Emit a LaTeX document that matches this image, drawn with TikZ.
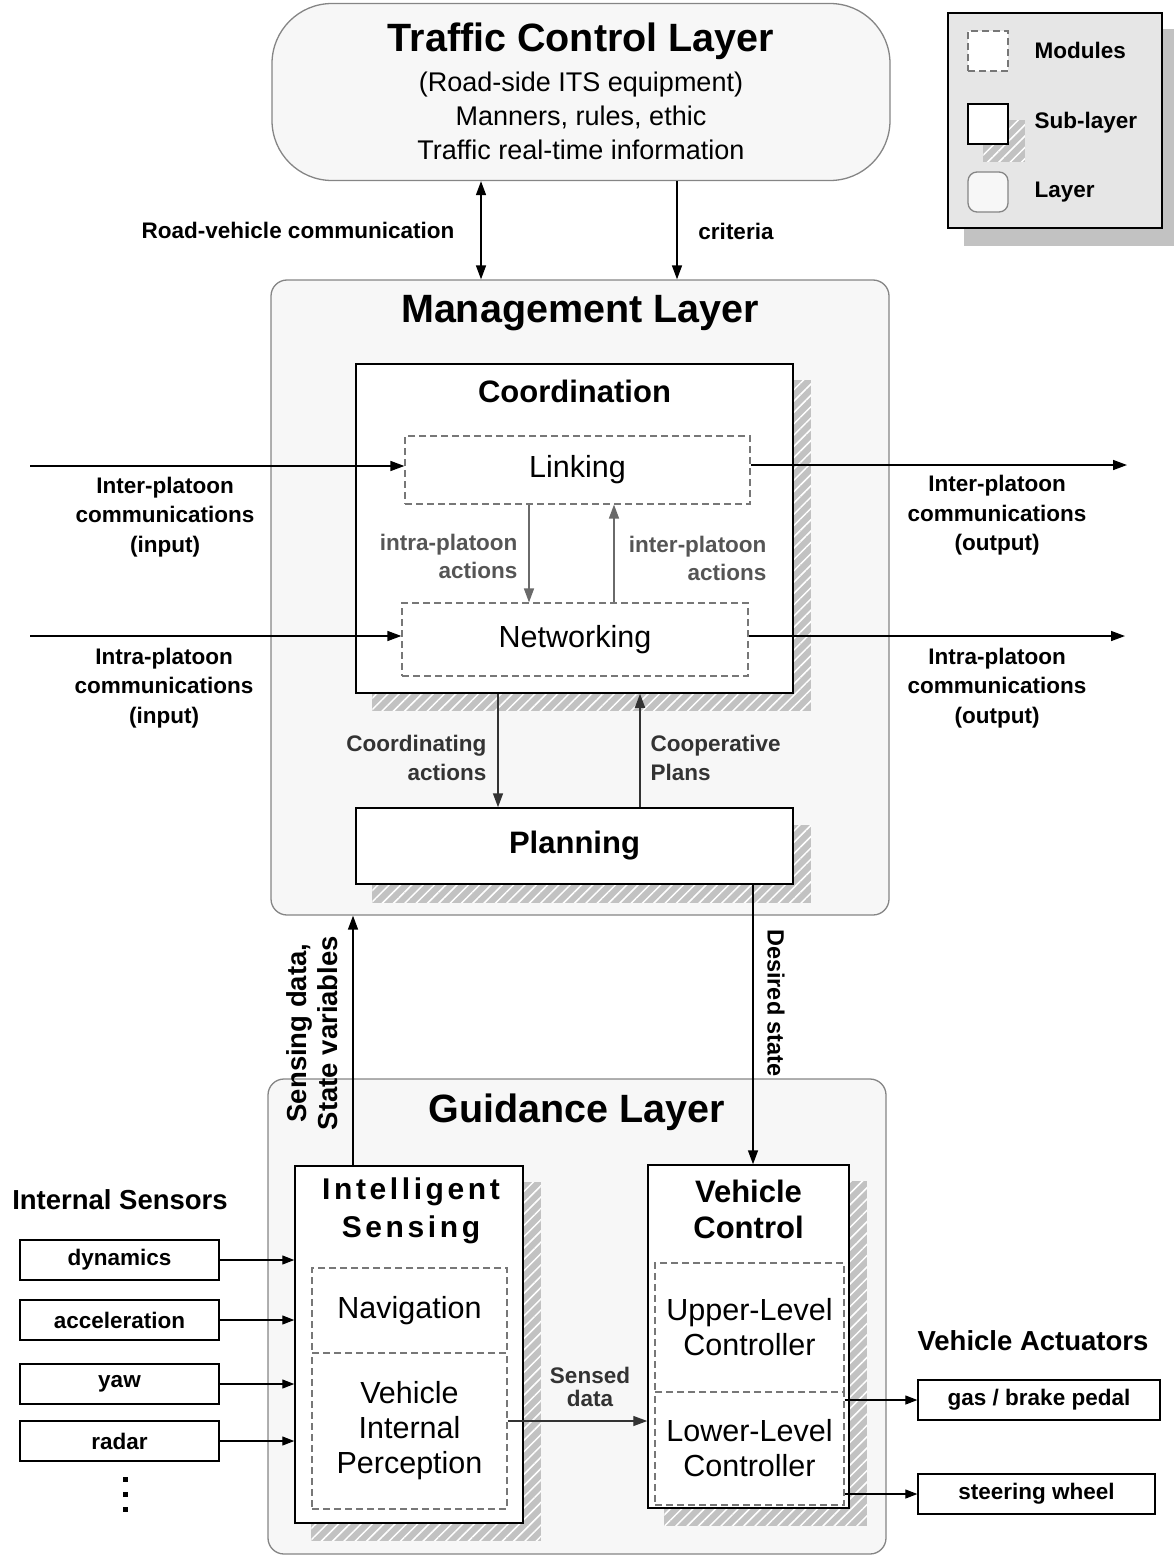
\documentclass[tikz,border=0pt]{standalone}
\usepackage{fontspec}
\setmainfont{Liberation Sans}
\usetikzlibrary{arrows.meta,patterns.meta}
\pgfdeclarelayer{bottom}
\pgfdeclarelayer{back}
\pgfdeclarelayer{shade}
\pgfsetlayers{bottom,back,shade,main}

\definecolor{layerfill}{HTML}{F7F7F7}
\definecolor{layerline}{HTML}{858585}
\definecolor{hatchgray}{HTML}{C2C2C2}
\definecolor{legendfill}{HTML}{E6E6E6}
\definecolor{modline}{HTML}{777777}
\definecolor{innergray}{HTML}{6A6A6A}
\definecolor{labelgray}{HTML}{555555}
\definecolor{darkline}{HTML}{333333}

\tikzset{
  layerbox/.style={draw=layerline, fill=layerfill, line width=1.3pt, rounded corners=16pt, inner sep=0pt},
  sublayer/.style={draw=black, fill=white, line width=1.5pt, inner sep=0pt},
  module/.style={draw=modline, dash pattern=on 7pt off 4pt, line width=1.2pt, inner sep=0pt,
    align=center, font=\fontsize{30.5}{35}\selectfont},
  hatch/.style={fill=hatchgray, postaction={pattern={Lines[angle=45,distance=8pt,line width=1.5pt]}, pattern color=white}},
  sensor/.style={draw=black, fill=white, line width=1.3pt, inner sep=0pt, font=\bfseries\fontsize{22.5}{27}\selectfont},
  layertitle/.style={font=\bfseries\fontsize{39.5}{48}\selectfont},
  subtitle/.style={font=\bfseries\fontsize{31}{37}\selectfont, align=center},
  lbl/.style={font=\bfseries\fontsize{22.5}{29.5}\selectfont, align=center},
  glbl/.style={font=\bfseries\fontsize{22.5}{28}\selectfont, text=labelgray},
  dlbl/.style={font=\bfseries\fontsize{22.5}{29}\selectfont, text=darkline},
  heading/.style={font=\bfseries\fontsize{27.5}{33}\selectfont},
  dotmark/.style={fill=black, inner sep=0pt, minimum size=5pt},
  arr/.style={line width=1.5pt, -{Triangle[length=14pt,width=10pt]}},
  sarr/.style={line width=1.2pt, -{Triangle[length=12pt,width=9pt]}},
  garr/.style={line width=1.5pt, draw=innergray, -{Triangle[length=14pt,width=10pt]}},
  darr/.style={line width=1.5pt, draw=darkline, -{Triangle[length=14pt,width=10pt]}},
}

\begin{document}
\begin{tikzpicture}[x=1pt,y=-1pt]
\useasboundingbox (0,0) rectangle (1174,1557);

% ---------- layers (kept below the sub-layer shadows) ----------
\begin{pgfonlayer}{back}
\node[layerbox, rounded corners=60pt, minimum width=618pt, minimum height=177pt] (tcl) at (581,92) {};
\node[layerbox, minimum width=618pt, minimum height=635pt] (ml) at (580,597.5) {};
\node[layerbox, minimum width=618pt, minimum height=475pt] (gl) at (577,1316.5) {};
\node[draw=black, fill=legendfill, line width=1.3pt, minimum width=214pt, minimum height=215pt] (leg) at (1055,120.5) {};
\end{pgfonlayer}
\begin{pgfonlayer}{bottom}
  \fill[hatchgray] ([shift={(17pt,-17pt)}]leg.south west) rectangle ([shift={(17pt,-17pt)}]leg.north east);
\end{pgfonlayer}

\node[layertitle] (tcltitle) at (581,41) {Traffic Control Layer};
\node[font=\fontsize{27}{34}\selectfont, align=center] (tcltext) at (581,116)
  {(Road-side ITS equipment)\\Manners, rules, ethic\\Traffic real-time information};
\node[layertitle] (mltitle) at (580,313) {Management Layer};
\node[layertitle] (gltitle) at (577,1112) {Guidance Layer};

% ---------- legend ----------
\node[module, fill=white, minimum width=40pt, minimum height=40pt] (legmod) at (988,51) {};
\node[sublayer, minimum width=40pt, minimum height=40pt] (legsub) at (988,124) {};
\node[layerbox, rounded corners=9pt, minimum width=40pt, minimum height=40pt] (leglay) at (988,192) {};
\node[lbl, anchor=west] (legmodtxt) at (1031,50) {Modules};
\node[lbl, anchor=west] (legsubtxt) at (1031,123) {Sub-layer};
\node[lbl, anchor=west] (leglaytxt) at (1031,192) {Layer};

% ---------- management sub-layers ----------
\node[sublayer, minimum width=437pt, minimum height=329pt] (coord) at (574.5,528.5) {};
\node[subtitle] (coordtitle) at (574.5,391) {Coordination};
\node[module, minimum width=345pt, minimum height=68pt] (link) at (577.5,470) {Linking};
\node[module, minimum width=346pt, minimum height=73pt] (net) at (575,639.5) {Networking};
\node[sublayer, minimum width=437pt, minimum height=76pt, subtitle] (plan) at (574.5,846) {Planning};

% ---------- guidance sub-layers ----------
\node[sublayer, minimum width=228pt, minimum height=357pt] (is) at (409,1344.5) {};
\node[subtitle, font=\bfseries\fontsize{30}{38}\selectfont\addfontfeature{LetterSpace=12}] (istitle) at (411,1211) {Intelligent\\Sensing};
\node[module, minimum width=195pt, minimum height=85pt] (nav) at (409.5,1310.5) {Navigation};
\node[module, minimum width=195pt, minimum height=156pt] (vip) at (409.5,1431) {Vehicle\\Internal\\Perception};

\node[sublayer, minimum width=201pt, minimum height=343pt] (vc) at (748.5,1336.5) {};
\node[subtitle, font=\bfseries\fontsize{31}{36}\selectfont] (vctitle) at (748.5,1209.5) {Vehicle\\Control};
\node[module, minimum width=189pt, minimum height=129pt] (upper) at (749.5,1327.5) {Upper-Level\\Controller};
\node[module, minimum width=189pt, minimum height=113pt] (lower) at (749.5,1448.5) {Lower-Level\\Controller};

% ---------- hatched shadows behind sub-layers ----------
\begin{pgfonlayer}{shade}
  \path[hatch] ([shift={(16pt,-17pt)}]legsub.south west) rectangle ([shift={(16pt,-17pt)}]legsub.north east);
  \path[hatch] ([shift={(17pt,-17pt)}]coord.south west) rectangle ([shift={(17pt,-17pt)}]coord.north east);
  \path[hatch] ([shift={(17pt,-18pt)}]plan.south west) rectangle ([shift={(17pt,-18pt)}]plan.north east);
  \path[hatch] ([shift={(17pt,-17pt)}]is.south west) rectangle ([shift={(17pt,-17pt)}]is.north east);
  \path[hatch] ([shift={(17pt,-17pt)}]vc.south west) rectangle ([shift={(17pt,-17pt)}]vc.north east);
\end{pgfonlayer}

% ---------- sensors and actuators ----------
\node[heading] (senshead) at (120,1200) {Internal Sensors};
\node[sensor, minimum width=199pt, minimum height=40pt] (dyn) at (119.5,1260) {dynamics};
\node[sensor, minimum width=199pt, minimum height=40pt] (acc) at (119.5,1320) {acceleration};
\node[sensor, minimum width=199pt, minimum height=40pt] (yaw) at (119.5,1384) {yaw};
\node[sensor, minimum width=199pt, minimum height=40pt] (radar) at (119.5,1441) {radar};
\node[dotmark] (dotA) at (125,1479) {};
\node[dotmark] (dotB) at (125,1494) {};
\node[dotmark] (dotC) at (125,1509) {};

\node[heading] (acthead) at (1033,1341) {Vehicle Actuators};
\node[sensor, minimum width=242pt, minimum height=40pt] (gas) at (1039,1400) {gas / brake pedal};
\node[sensor, minimum width=237pt, minimum height=40pt] (steer) at (1036.5,1494) {steering wheel};

% ---------- connectors: traffic control / management ----------
\draw[arr, {Triangle[length=14pt,width=10pt]}-{Triangle[length=14pt,width=10pt]}]
  ([xshift=-100pt]tcl.south) -- ([xshift=-100pt]tcl.south |- ml.north);
\draw[arr] ([xshift=96pt]tcl.south) -- ([xshift=96pt]tcl.south |- ml.north);
\node[lbl] (rvc) at (298,230) {Road-vehicle communication};
\node[lbl] (crit) at (736,231) {criteria};

% ---------- connectors: platoon communications ----------
\coordinate (inA) at (30,466);
\coordinate (inB) at (30,636);
\coordinate (outA) at (1127,465);
\coordinate (outB) at (1125,636);
\draw[arr] (inA) -- (inA -| link.west);
\draw[arr] (inB) -- (inB -| net.west);
\draw[arr] (outA -| link.east) -- (outA);
\draw[arr] (outB -| net.east) -- (outB);
\node[lbl] (interin) at (165,517) {Inter-platoon\\communications\\(input)};
\node[lbl] (intrain) at (164,688) {Intra-platoon\\communications\\(input)};
\node[lbl] (interout) at (997,515.5) {Inter-platoon\\communications\\(output)};
\node[lbl] (intraout) at (997,688) {Intra-platoon\\communications\\(output)};

% ---------- connectors inside coordination ----------
\draw[garr] ([xshift=-48.5pt]link.south) -- ([xshift=-48.5pt]link.south |- net.north);
\draw[garr] ([xshift=39pt]net.north) -- ([xshift=39pt]net.north |- link.south);
\node[glbl, align=right, anchor=east] (intraact) at (521,556) {intra-platoon\\actions};
\node[glbl, align=right, anchor=east] (interact) at (770,558) {inter-platoon\\actions};

% ---------- coordination / planning ----------
\draw[darr] ([xshift=-76.5pt]coord.south) -- ([xshift=-76.5pt]plan.north);
\draw[darr] ([xshift=65.5pt]plan.north) -- ([xshift=65.5pt]coord.south);
\node[dlbl, align=right, anchor=east] (coordact) at (490,757.5) {Coordinating\\actions};
\node[dlbl, align=left, anchor=west] (coopplan) at (647,757.5) {Cooperative\\Plans};

% ---------- management / guidance ----------
\draw[arr] ([xshift=-56pt]is.north) -- ([xshift=-56pt]is.north |- ml.south);
\node[lbl, font=\bfseries\fontsize{27.5}{31}\selectfont, rotate=90] (sensdata) at (312,1033) {Sensing data,\\State variables};
\draw[arr] ([xshift=178.5pt]plan.south) -- ([xshift=178.5pt]plan.south |- vc.north);
\node[lbl, font=\bfseries\fontsize{23.5}{29}\selectfont, rotate=-90] (desired) at (776,1003) {Desired state};

% ---------- guidance connectors ----------
\draw[sarr] (dyn.east) -- (dyn.east -| is.west);
\draw[sarr] (acc.east) -- (acc.east -| is.west);
\draw[sarr] (yaw.east) -- (yaw.east -| is.west);
\draw[sarr] (radar.east) -- (radar.east -| is.west);
\draw[darr, line width=1.3pt] ([yshift=10pt]vip.east) -- ([yshift=10pt]vip.east -| vc.west);
\node[dlbl, font=\bfseries\fontsize{22.5}{23}\selectfont, align=center] (senseddata) at (590,1387) {Sensed\\data};
\draw[sarr] (lower.east |- gas.west) -- (gas.west);
\draw[sarr] (lower.east |- steer.west) -- (steer.west);
\end{tikzpicture}
\end{document}
